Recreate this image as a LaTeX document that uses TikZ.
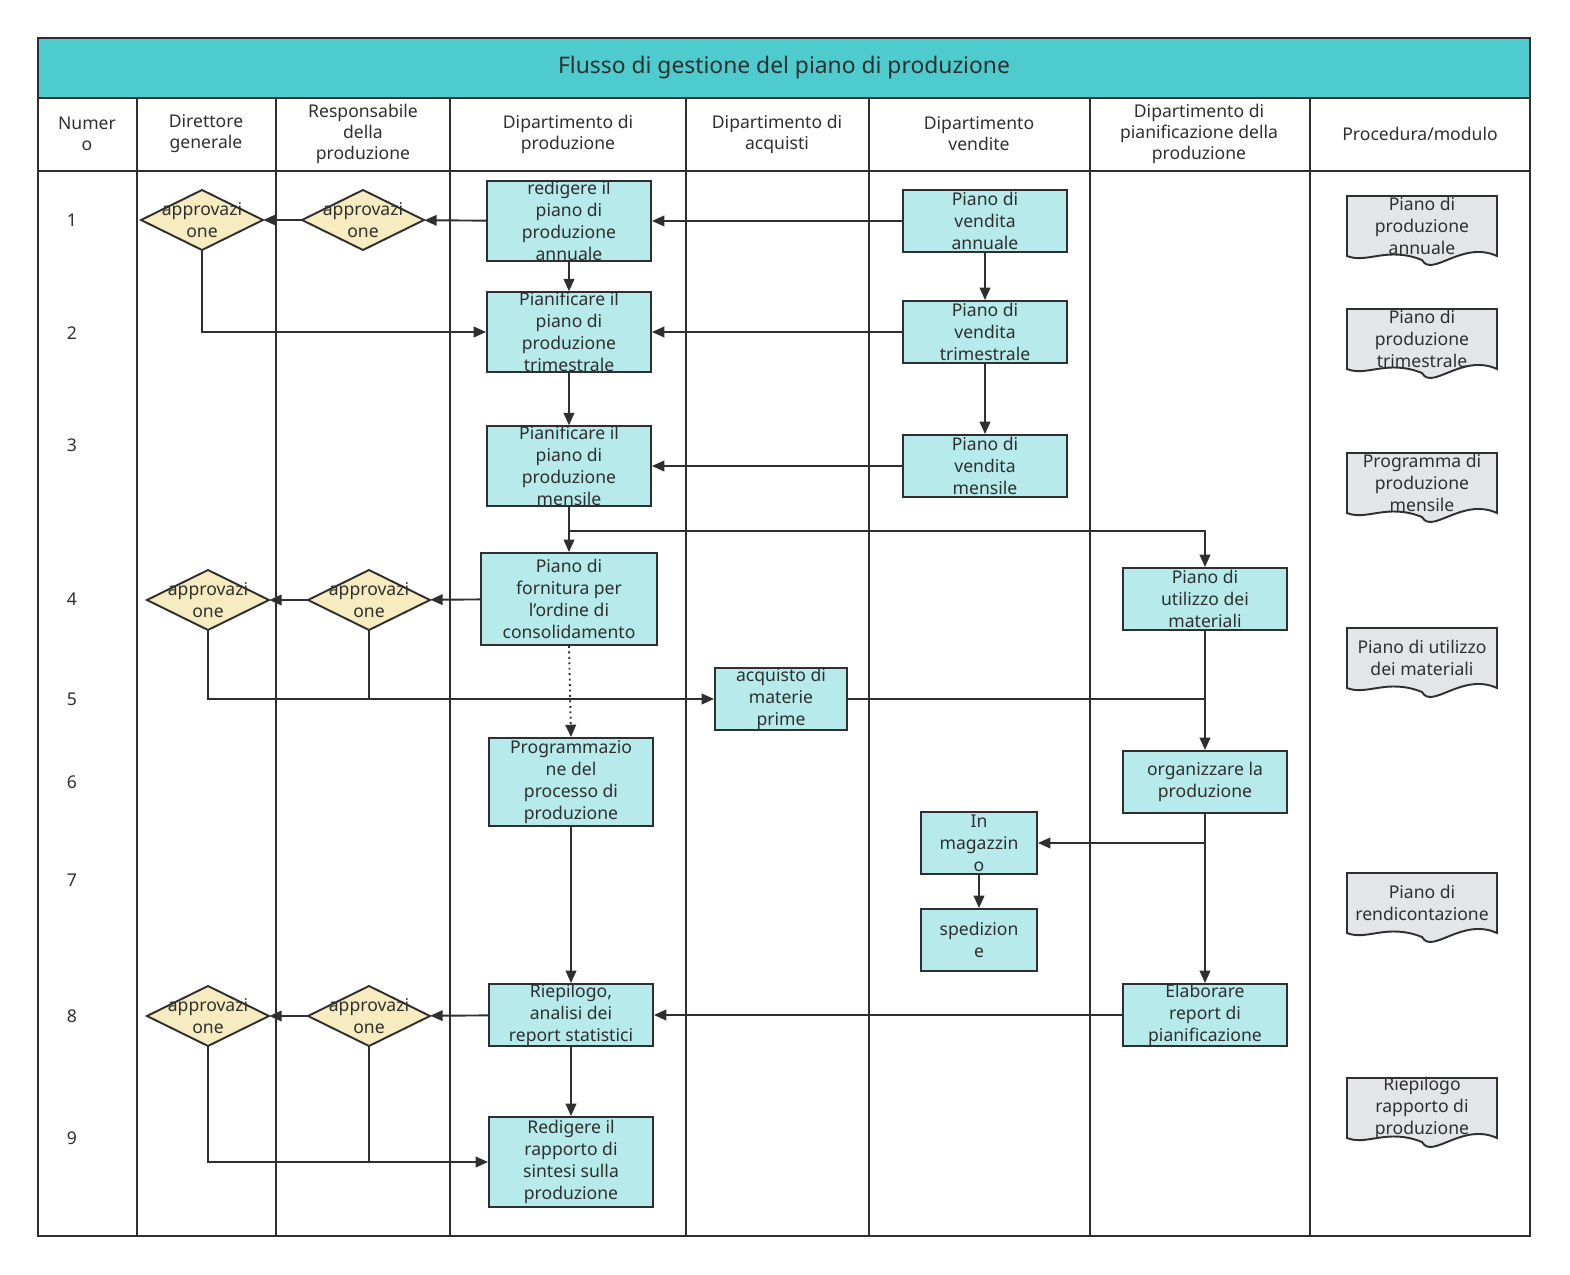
\documentclass[tikz,border=0pt]{standalone}
\usepackage{fontspec}
\setmainfont{Noto Sans}
\usetikzlibrary{arrows.meta}
\definecolor{headcol}{HTML}{4ECBCD}
\definecolor{boxcol}{HTML}{B6EAEB}
\definecolor{deccol}{HTML}{F7ECBF}
\definecolor{doccol}{HTML}{E3E5E8}
\definecolor{linecol}{HTML}{2F2F2F}
\tikzset{
  flow/.style={draw=linecol, line width=1.1pt, -{Triangle[length=7pt,width=6pt]}},
  plain/.style={draw=linecol, line width=1.1pt},
  task/.style={draw=linecol, line width=1.1pt, fill=boxcol, align=center, inner sep=0pt,
    minimum width=164*0.02cm, minimum height=62*0.02cm},
  label/.style={align=center, inner sep=0pt},
  head/.style={align=center, font=\bfseries, inner sep=0pt}
}
\newcommand{\decision}[3]{%
  \draw[plain, fill=deccol] ({#2-61},#3) -- (#2,{#3-30}) -- ({#2+61},#3) -- (#2,{#3+30}) -- cycle;
  \node[label, minimum width=122*0.02cm, minimum height=60*0.02cm] (#1) at (#2,#3) {approvazi\\one};}
\newcommand{\docnote}[4]{%
  \draw[plain, fill=doccol] ({#2-75},{#3-34}) -- ({#2+75},{#3-34}) -- ({#2+75},{#3+26})
    .. controls ({#2+40},{#3+10}) and ({#2+10},{#3+48}) .. (#2,{#3+30})
    .. controls ({#2-35},{#3+16}) and ({#2-55},{#3+34}) .. ({#2-75},{#3+26}) -- cycle;
  \node[label] (#1) at (#2,{#3-4}) {#4};}
\begin{document}
\begin{tikzpicture}[x=0.02cm, y=-0.02cm, font=\fontsize{10}{12.5}\selectfont, text=linecol]
\useasboundingbox (0,0) rectangle (1570,1275);
% frame and lanes
\fill[headcol] (38,38) rectangle (1530,98);
\draw[plain] (38,38) rectangle (1530,1236);
\draw[plain] (38,98) -- (1530,98);
\draw[plain] (38,171) -- (1530,171);
\foreach \x in {137,276,450,686,869,1090,1310}
  \draw[plain] (\x,98) -- (\x,1236);
\node[head, font=\fontsize{13}{16}\selectfont\bfseries] (title) at (784,68) {Flusso di gestione del piano di produzione};
\node[head] (h1) at (87,134) {Numer\\o};
\node[head] (h2) at (206,134) {Direttore\\generale};
\node[head] (h3) at (363,134) {Responsabile\\della\\produzione};
\node[head] (h4) at (568,134) {Dipartimento di\\produzione};
\node[head] (h5) at (777,134) {Dipartimento di\\acquisti};
\node[head] (h6) at (979,134) {Dipartimento\\vendite};
\node[head] (h7) at (1199,134) {Dipartimento di\\pianificazione della\\produzione};
\node[head] (h8) at (1420,134) {Procedura/modulo};
% row numbers
\foreach \n/\y in {1/220,2/333,3/445,4/599,5/699,6/782,7/880,8/1016,9/1138}
  \node[label] (n\n) at (72,\y) {\n};
% tasks
\node[task] (p1) at (569,221) {redigere il\\piano di\\produzione\\annuale};
\node[task] (s1) at (985,221) {Piano di\\vendita\\annuale};
\node[task] (p2) at (569,332) {Pianificare il\\piano di\\produzione\\trimestrale};
\node[task] (s2) at (985,332) {Piano di\\vendita\\trimestrale};
\node[task] (p3) at (569,466) {Pianificare il\\piano di\\produzione\\mensile};
\node[task] (s3) at (985,466) {Piano di\\vendita\\mensile};
\node[task, minimum width=176*0.02cm, minimum height=92*0.02cm] (p4) at (569,599) {Piano di\\fornitura per\\l'ordine di\\consolidamento};
\node[task] (m4) at (1205,599) {Piano di\\utilizzo dei\\materiali};
\node[task, minimum width=132*0.02cm] (a5) at (781,699) {acquisto di\\materie\\prime};
\node[task, minimum height=88*0.02cm] (p6) at (571,782) {Programmazio\\ne del\\processo di\\produzione};
\node[task] (m6) at (1205,782) {organizzare la\\produzione};
\node[task, minimum width=116*0.02cm] (w7) at (979,843) {In\\magazzin\\o};
\node[task, minimum width=116*0.02cm] (sp7) at (979,940) {spedizion\\e};
\node[task] (p8) at (571,1015) {Riepilogo,\\analisi dei\\report statistici};
\node[task] (m8) at (1205,1015) {Elaborare\\report di\\pianificazione};
\node[task, minimum height=90*0.02cm] (p9) at (571,1162) {Redigere il\\rapporto di\\sintesi sulla\\produzione};
% decisions
\decision{d1a}{202}{220}
\decision{d1b}{363}{220}
\decision{d4a}{208}{600}
\decision{d4b}{369}{600}
\decision{d8a}{208}{1016}
\decision{d8b}{369}{1016}
% documents
\docnote{f1}{1422}{230}{Piano di\\produzione\\annuale}
\docnote{f2}{1422}{343}{Piano di\\produzione\\trimestrale}
\docnote{f3}{1422}{487}{Programma di\\produzione\\mensile}
\docnote{f4}{1422}{662}{Piano di utilizzo\\dei materiali}
\docnote{f5}{1422}{907}{Piano di\\rendicontazione}
\docnote{f6}{1422}{1112}{Riepilogo\\rapporto di\\produzione}
% connectors
\draw[flow] (s1) -- (p1);
\draw[flow] (p1) -- (d1b);
\draw[flow] (d1b) -- (d1a);
\draw[flow] (p1) -- (p2);
\draw[flow] (d1a.south) |- (p2.west);
\draw[flow] (s1) -- (s2);
\draw[flow] (s2) -- (p2);
\draw[flow] (s2) -- (s3);
\draw[flow] (s3) -- (p3);
\draw[flow] (p2) -- (p3);
\draw[flow] (p3.south) -- (p4.north);
\draw[flow] (p3.south) |- (1205,531) -- (m4.north);
\draw[flow] (p4) -- (d4b);
\draw[flow] (d4b) -- (d4a);
\draw[flow] (d4a.south) |- (a5.west);
\draw[plain] (d4b.south) -- (369,699);
\draw[flow, dotted] (p4.south) -- (p6.north);
\draw[flow] (m4) -- (m6);
\draw[plain] (a5.east) -- (1205,699);
\draw[flow] (m6.south) |- (w7.east);
\draw[flow] (w7) -- (sp7);
\draw[flow] (m6) -- (m8);
\draw[flow] (p6) -- (p8);
\draw[flow] (m8) -- (p8);
\draw[flow] (p8) -- (d8b);
\draw[flow] (d8b) -- (d8a);
\draw[flow] (p8) -- (p9);
\draw[flow] (d8a.south) |- (p9.west);
\draw[plain] (d8b.south) -- (369,1162);
\end{tikzpicture}
\end{document}
